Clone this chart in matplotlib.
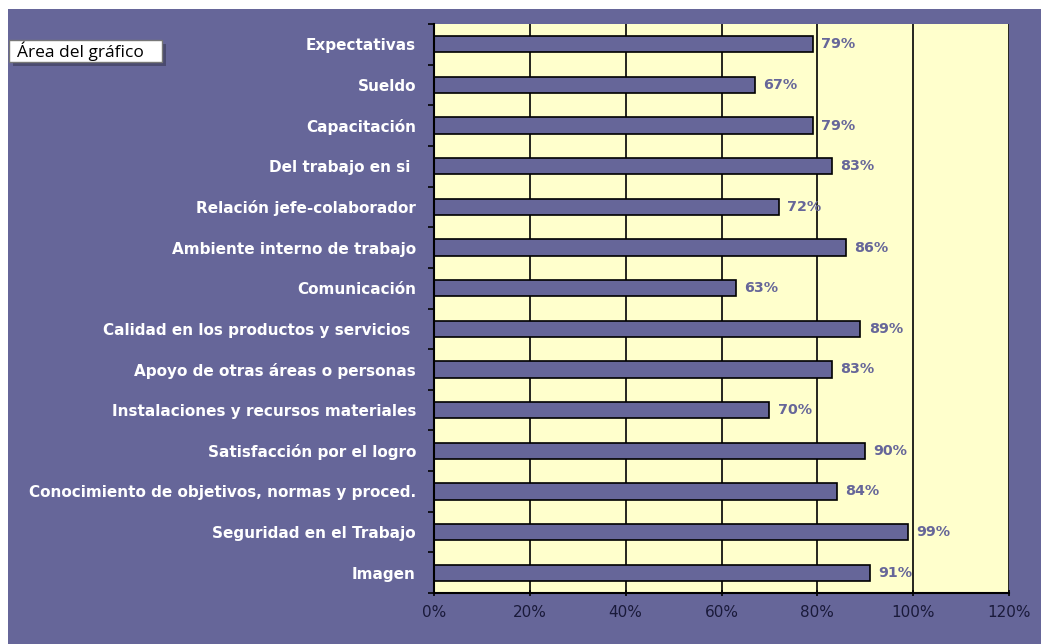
import numpy as np
import matplotlib.pyplot as plt
from matplotlib.patches import Rectangle

# datos de la encuesta de clima
categorias = [
    "Expectativas",
    "Sueldo",
    "Capacitación",
    "Del trabajo en si ",
    "Relación jefe-colaborador",
    "Ambiente interno de trabajo",
    "Comunicación",
    "Calidad en los productos y servicios ",
    "Apoyo de otras áreas o personas",
    "Instalaciones y recursos materiales",
    "Satisfacción por el logro",
    "Conocimiento de objetivos, normas y proced.",
    "Seguridad en el Trabajo",
    "Imagen",
]
porcentajes = [79, 67, 79, 83, 72, 86, 63, 89, 83, 70, 90, 84, 99, 91]
marcas_x = [0, 20, 40, 60, 80, 100, 120]

morado = "#666699"
amarillo = "#FFFFCC"

plt.rcParams["font.family"] = ["DejaVu Sans"]

fig = plt.figure(figsize=(10.41, 6.44), dpi=100, facecolor=morado)
ax = fig.add_axes([434 / 1041, 1 - 593 / 644, 575 / 1041, 569 / 644])
ax.set_facecolor(amarillo)

y = np.arange(len(categorias))
ax.barh(y, porcentajes, height=0.4, color=morado, edgecolor="black", linewidth=1.2, zorder=3)

for yi, v in zip(y, porcentajes):
    ax.annotate(f"{v}%", (v, yi), xytext=(6, 0), textcoords="offset points",
                va="center", ha="left", fontsize=10.3, fontweight="bold", color=morado, zorder=4)

ax.set_xlim(0, 120)
ax.set_ylim(len(categorias) - 0.5, -0.5)
ax.set_xticks(marcas_x)
ax.set_xticklabels([f"{m}%" for m in marcas_x], fontsize=11, color="#1a1a3a")
ax.xaxis.grid(True, color="black", linewidth=1.2, zorder=1)

ax.set_yticks(y)
ax.set_yticklabels(categorias, fontsize=11, fontweight="bold", color="white")
ax.set_yticks(np.arange(len(categorias) + 1) - 0.5, minor=True)
ax.tick_params(axis="y", which="major", length=0, pad=13)
ax.tick_params(axis="y", which="minor", length=4, width=1.2, direction="out")
ax.tick_params(axis="x", length=5, width=1.2, direction="inout", pad=6)

for lado in ["top", "right"]:
    ax.spines[lado].set_visible(False)
for lado in ["left", "bottom"]:
    ax.spines[lado].set_linewidth(1.5)
    ax.spines[lado].set_zorder(5)

# franja blanca superior e izquierda
fig.patches.append(Rectangle((0, 1 - 9 / 644), 1, 9 / 644, transform=fig.transFigure,
                             facecolor="white", edgecolor="none"))
fig.patches.append(Rectangle((0, 0), 8 / 1041, 1, transform=fig.transFigure,
                             facecolor="white", edgecolor="none"))

# etiqueta emergente
fig.patches.append(Rectangle((13 / 1041, 1 - 66 / 644), 153 / 1041, 22 / 644,
                             transform=fig.transFigure, facecolor="#3a3a55",
                             edgecolor="none", alpha=0.6))
fig.patches.append(Rectangle((9 / 1041, 1 - 62 / 644), 153 / 1041, 22 / 644,
                             transform=fig.transFigure, facecolor="white",
                             edgecolor="#777777", linewidth=1))
fig.text(17 / 1041, 1 - 51 / 644, "Área del gráfico", fontsize=12.5,
         family=["Open Sans", "DejaVu Sans"], color="black", va="center", ha="left")

fig.savefig("out.png", dpi=100, facecolor=morado)
